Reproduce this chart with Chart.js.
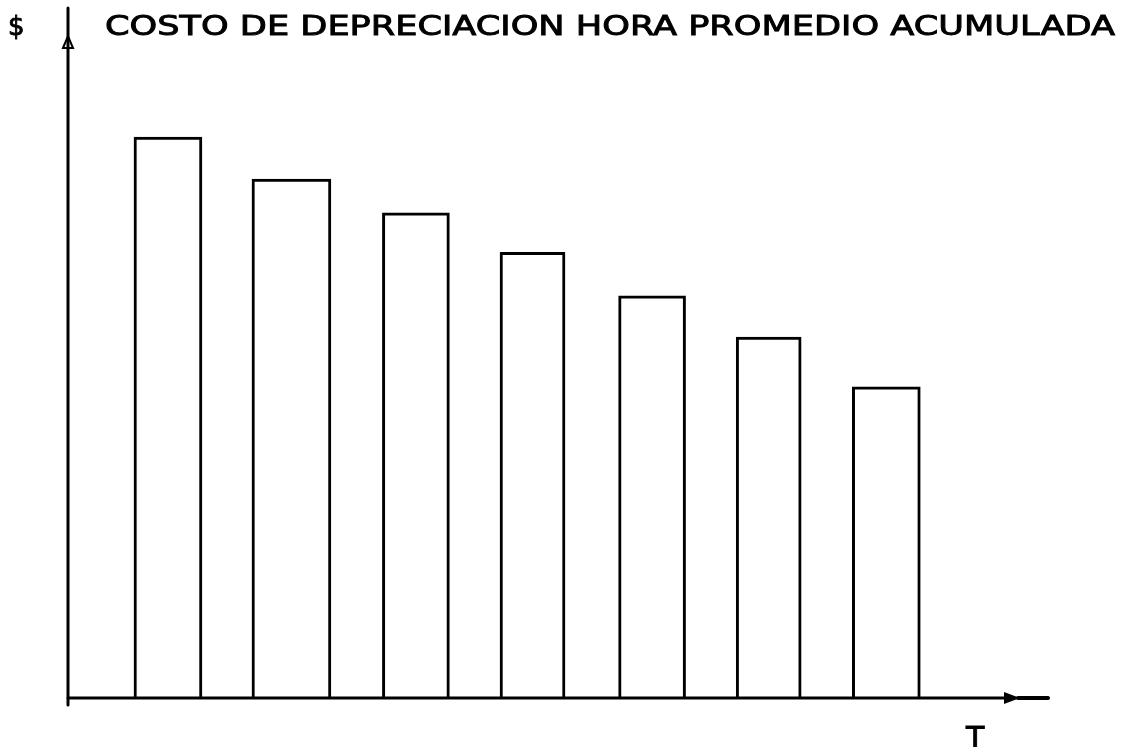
<!DOCTYPE html>
<html>
<head>
<meta charset="utf-8">
<script src="https://cdn.jsdelivr.net/npm/chart.js@4.4.1/dist/chart.umd.min.js"></script>
<style>
  html, body { margin: 0; padding: 0; background: #fff; }
  #wrap { width: 1133px; height: 747px; position: relative; }
</style>
</head>
<body>
<div id="wrap"><canvas id="bar-chart"></canvas></div>
<script>
// periodos (posicion sobre el eje T) y costo acumulado por hora
const periodos = [1.02, 2.28, 3.55, 4.74, 5.96, 7.15, 8.35];
const costoHora = [81.3, 75.2, 70.3, 64.6, 58.3, 52.3, 45.1];
// ancho de cada barra (dibujadas a mano, no todas iguales)
const anchos = [68, 79, 67, 65, 67, 65, 68];
const titulo = 'COSTO DE DEPRECIACION HORA PROMEDIO ACUMULADA';
const ejeY = '$';
const ejeX = 'T';

// texto con trazo un poco mas grueso
function textoGrueso(ctx, txt, x, y) {
    ctx.fillText(txt, x, y);
    ctx.strokeText(txt, x, y);
}

// ejes dibujados a mano, con flecha, y los textos del grafico
const ejesPlugin = {
    id: 'ejes',
    afterDatasetsDraw(chart) {
        const ctx = chart.ctx;
        const a = chart.chartArea;
        ctx.save();
        ctx.strokeStyle = '#000';
        ctx.fillStyle = '#000';
        ctx.lineWidth = 3;
        ctx.lineCap = 'round';

        // eje vertical
        ctx.beginPath();
        ctx.moveTo(a.left, a.top);
        ctx.lineTo(a.left, a.bottom + 7);
        ctx.stroke();
        // punta de flecha pequena
        ctx.lineWidth = 2;
        ctx.beginPath();
        ctx.moveTo(a.left - 5, a.top + 40);
        ctx.lineTo(a.left, a.top + 28);
        ctx.lineTo(a.left + 5, a.top + 40);
        ctx.closePath();
        ctx.stroke();

        // eje horizontal
        ctx.lineWidth = 3;
        ctx.beginPath();
        ctx.moveTo(a.left, a.bottom);
        ctx.lineTo(a.right - 40, a.bottom);
        ctx.stroke();
        ctx.beginPath();
        ctx.moveTo(a.right - 44, a.bottom - 6);
        ctx.lineTo(a.right - 28, a.bottom);
        ctx.lineTo(a.right - 44, a.bottom + 6);
        ctx.closePath();
        ctx.fill();
        ctx.lineWidth = 4;
        ctx.beginPath();
        ctx.moveTo(a.right - 30, a.bottom);
        ctx.lineTo(a.right, a.bottom);
        ctx.stroke();

        // textos
        ctx.lineWidth = 0.9;
        ctx.lineCap = 'butt';
        ctx.textBaseline = 'alphabetic';
        ctx.font = '26px "DejaVu Sans"';
        textoGrueso(ctx, ejeY, 8, 35);

        ctx.font = '27px "DejaVu Sans"';
        const w = ctx.measureText(titulo).width;
        ctx.save();
        ctx.translate(105, 35);
        ctx.scale(1010 / w, 1);
        textoGrueso(ctx, titulo, 0, 0);
        ctx.restore();

        ctx.font = '30px "DejaVu Sans"';
        textoGrueso(ctx, ejeX, 966, 748);
        ctx.restore();
    }
};

document.addEventListener('DOMContentLoaded', function () {
    const ctx = document.getElementById('bar-chart').getContext('2d');
    // una serie por barra para poder dar a cada una su propio ancho
    const datasets = periodos.map((p, i) => ({
        data: [{ x: p, y: costoHora[i] }],
        backgroundColor: '#fff',
        borderColor: '#000',
        borderWidth: 3,
        borderSkipped: 'bottom',
        barThickness: anchos[i],
        grouped: false
    }));

    new Chart(ctx, {
        type: 'bar',
        data: { datasets: datasets },
        options: {
            responsive: true,
            maintainAspectRatio: false,
            animation: false,
            layout: {
                padding: { left: 68, top: 8, right: 85, bottom: 49 }
            },
            scales: {
                x: { type: 'linear', min: 0, max: 10, offset: false, display: false },
                y: { min: 0, max: 100, display: false }
            },
            plugins: {
                legend: { display: false },
                tooltip: { enabled: false }
            }
        },
        plugins: [ejesPlugin]
    });
});
</script>
</body>
</html>
